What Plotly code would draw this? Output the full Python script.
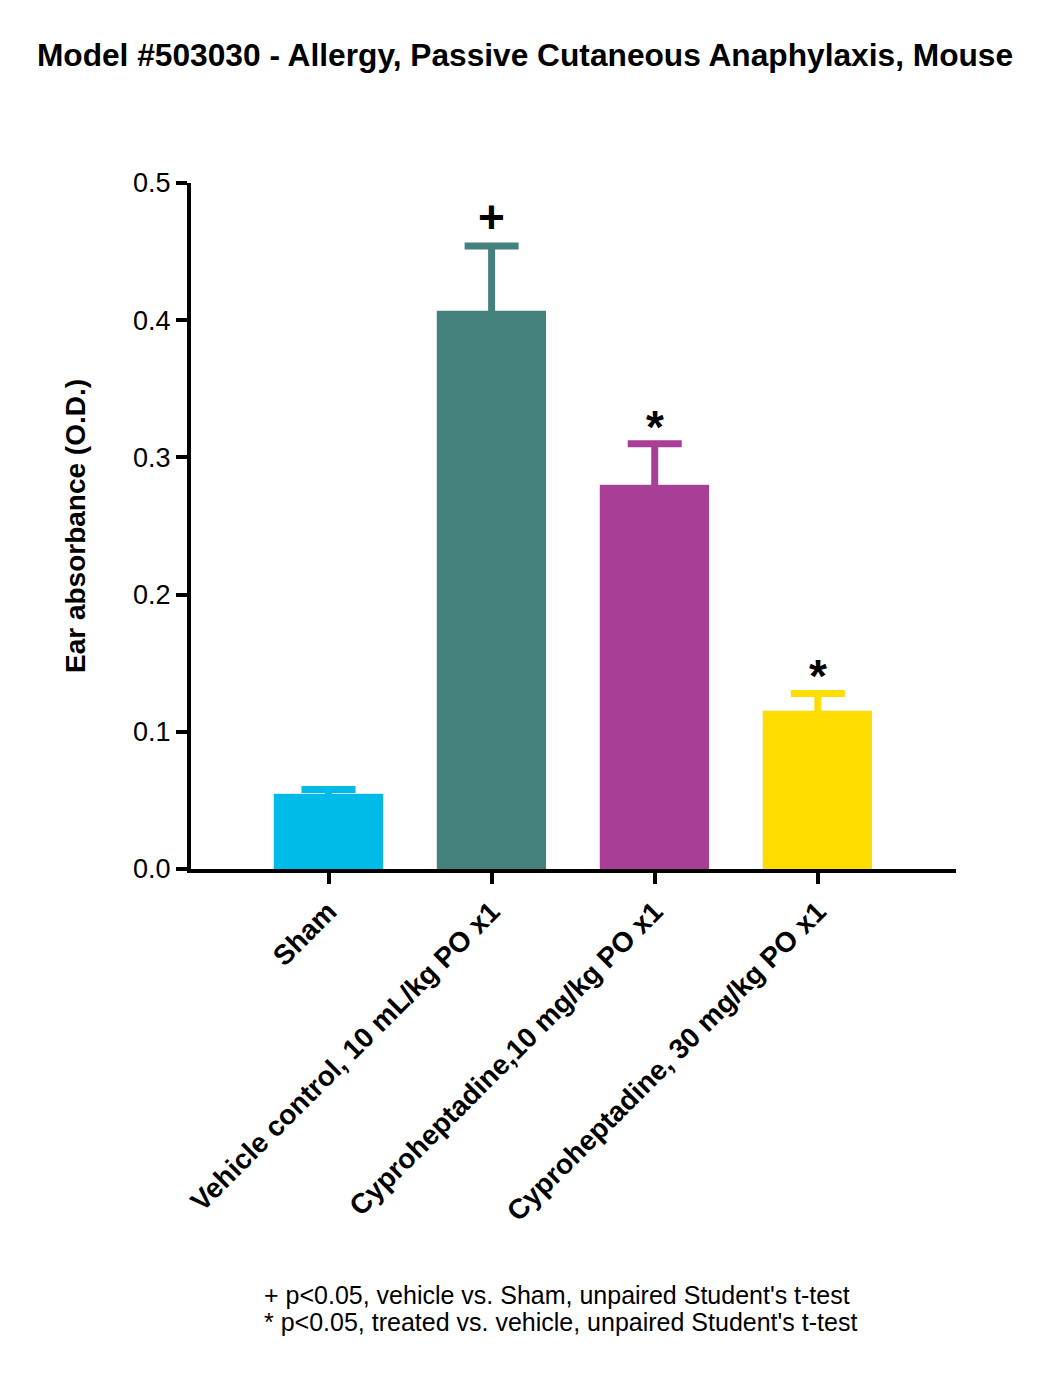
import plotly.graph_objects as go

# values
groups = ["Sham", "Vehicle control, 10 mL/kg PO x1",
          "Cyproheptadine,10 mg/kg PO x1", "Cyproheptadine, 30 mg/kg PO x1"]
mean_od = [0.055, 0.407, 0.280, 0.115]
sem_od = [0.003, 0.047, 0.030, 0.013]
sig_marks = ["", "+", "*", "*"]
bar_colors = ["#00BAE8", "#44807C", "#A93E96", "#FFDD00"]
footnotes = ["+ p<0.05, vehicle vs. Sham, unpaired Student's t-test",
             "* p<0.05, treated vs. vehicle, unpaired Student's t-test"]

font_name = "Liberation Sans"
bar_w = 0.668

fig = go.Figure()
# error bars first (one trace per bar for its own colour), bars on top hide the lower half
for g, m, s, c in zip(groups, mean_od, sem_od, bar_colors):
    fig.add_trace(go.Bar(
        x=[g], y=[m], marker_color=c, width=bar_w,
        error_y=dict(type='data', array=[s], symmetric=True, visible=True,
                     color=c, thickness=7, width=27),
        showlegend=False, hoverinfo='skip'))
fig.add_trace(go.Bar(
    x=groups, y=mean_od, marker_color=bar_colors, width=bar_w,
    marker_line_width=0, showlegend=False))

for g, m, s, mark in zip(groups, mean_od, sem_od, sig_marks):
    if mark:
        fig.add_annotation(x=g, y=m + s, text=mark, showarrow=False,
                           yanchor='bottom', yshift=1 if mark == "+" else -11,
                           font=dict(family=font_name, size=46, color='black', weight='bold'))

# page has an 8px body margin, so pixel positions below are offset by 8
for i, line in enumerate(footnotes):
    fig.add_annotation(
        xref='paper', yref='paper', x=(262 - 191) / 765,
        y=-(1295 + 27 * i - 869) / 686,
        xanchor='left', yanchor='middle', align='left', showarrow=False,
        text=line, font=dict(family=font_name, size=25, color='black'))

fig.update_layout(
    width=1034, height=1357,
    margin=dict(l=183, r=86, t=175, b=496),
    paper_bgcolor='white', plot_bgcolor='white',
    barmode='overlay', bargap=0,
    font=dict(family=font_name, color='black'),
    title=dict(text="Model #503030 - Allergy, Passive Cutaneous Anaphylaxis, Mouse",
               x=0.5, xanchor='center', y=1 - 47 / 1357, yanchor='middle',
               font=dict(family=font_name, size=31.7, color='black', weight='bold')),
    xaxis=dict(range=[-0.843, 3.847], showline=True, linewidth=4, linecolor='black',
               ticks='outside', ticklen=11, tickwidth=4, tickcolor='black',
               tickangle=-45, showgrid=False, zeroline=False,
               tickfont=dict(family=font_name, size=28, color='black', weight='bold')),
    yaxis=dict(range=[0, 0.5], dtick=0.1, tickformat='.1f', showline=True,
               linewidth=4, linecolor='black', ticks='outside', ticklen=11,
               tickwidth=4, tickcolor='black', showgrid=False, zeroline=False,
               tickfont=dict(family=font_name, size=27, color='black'),
               title=dict(text="Ear absorbance (O.D.)", standoff=40,
                          font=dict(family=font_name, size=28, color='black', weight='bold'))),
)

fig.write_html("out.html")
